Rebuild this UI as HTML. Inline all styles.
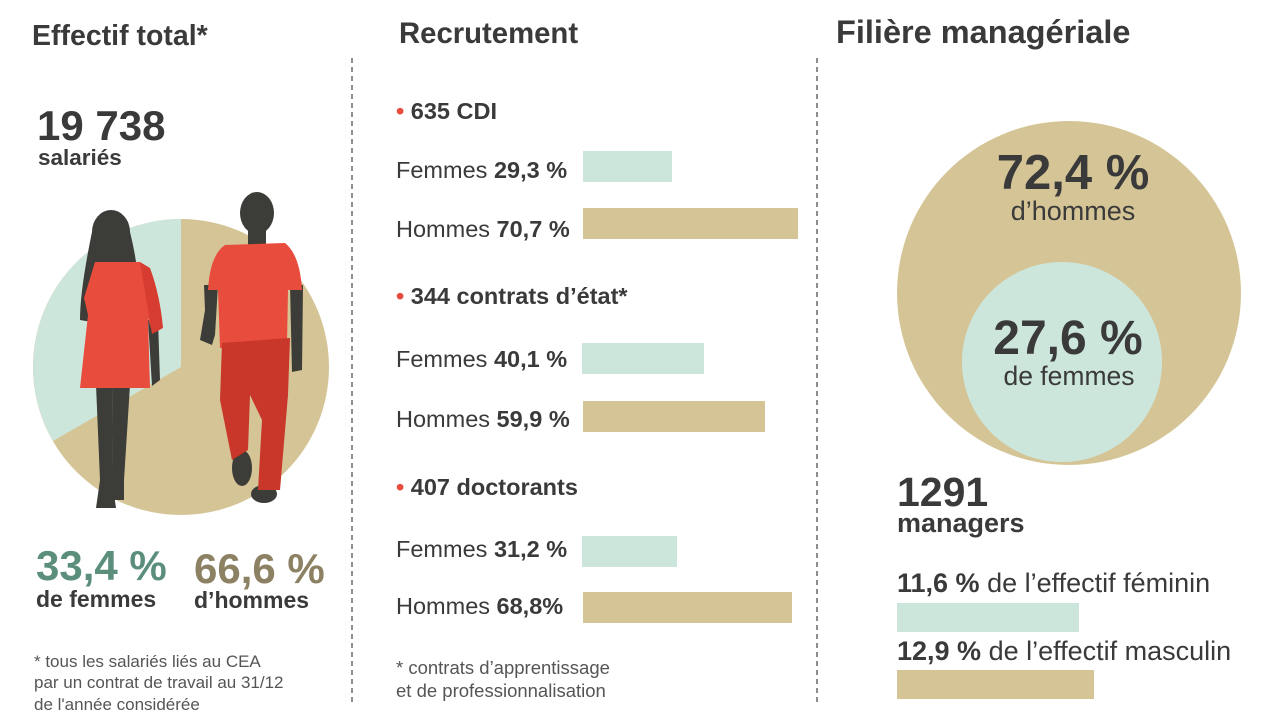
<!DOCTYPE html>
<html><head><meta charset="utf-8"><style>
body{margin:0;background:#fff;width:1280px;height:720px;overflow:hidden;font-family:"Liberation Sans",Arial,sans-serif}
</style></head><body>
<svg width="1280" height="720" xmlns="http://www.w3.org/2000/svg" font-family="Liberation Sans, Arial, sans-serif">
<rect width="1280" height="720" fill="#fff"/>
<line x1="352" y1="58" x2="352" y2="705" stroke="#444" stroke-width="1.2" stroke-dasharray="5,4"/>
<line x1="817" y1="58" x2="817" y2="705" stroke="#444" stroke-width="1.2" stroke-dasharray="5,4"/>
<g fill="#3a3a3a" font-weight="bold">
<text x="32" y="45" font-size="28.5">Effectif total*</text>
<text x="399" y="43" font-size="29.3">Recrutement</text>
<text x="836" y="43" font-size="32.5">Filière managériale</text>
</g>
<text x="37" y="140" font-size="42" font-weight="bold" fill="#3a3a3a">19 738</text>
<text x="38" y="165" font-size="22.5" font-weight="bold" fill="#3a3a3a">salariés</text>
<!-- pie -->
<circle cx="181" cy="367" r="148" fill="#d5c596"/>
<path d="M181,367 L181,219 A148,148 0 0,0 53,441 Z" fill="#cde6dc"/>
<!-- woman -->
<g fill="#3c3c38">
<ellipse cx="111" cy="232" rx="19" ry="22"/>
<path d="M92,232 Q80,290 80,320 L92,322 L100,262 L128,262 L140,330 Q142,280 130,232 Z"/>
<path d="M96,385 L113,385 L112,480 L116,508 L96,508 L100,480 Z"/>
<path d="M113,385 L130,385 L124,480 L124,500 L110,500 L112,470 Z"/>
<path d="M148,320 L158,320 L160,380 L152,386 Z"/>
</g>
<path d="M95,262 L140,262 Q158,290 162,325 L152,332 L148,318 L150,388 L80,388 L88,315 L84,298 Z" fill="#e84c3d"/>
<path d="M140,262 L150,268 Q160,295 163,328 L152,334 Z" fill="#d63d30"/>
<!-- man -->
<g fill="#3c3c38">
<ellipse cx="257" cy="213" rx="17" ry="21"/>
<rect x="248" y="225" width="18" height="22"/>
<path d="M204,285 L218,285 L215,335 L212,345 L200,340 L205,310 Z"/>
<path d="M290,285 L303,285 L302,370 L292,372 Z"/>
<ellipse cx="242" cy="468" rx="10" ry="18"/>
<ellipse cx="264" cy="494" rx="13" ry="9"/>
</g>
<path d="M225,245 L285,243 Q300,255 302,290 L288,290 L287,345 L220,348 L218,290 L208,290 Q210,255 225,245 Z" fill="#e84c3d"/>
<path d="M222,343 L290,338 L288,395 L280,490 L258,490 L262,420 L250,395 L248,450 L232,460 L220,400 Z" fill="#c9362a"/>
<text x="36" y="580" font-size="42" font-weight="bold" fill="#5b8f7c">33,4 %</text>
<text x="36" y="607" font-size="23" font-weight="bold" fill="#3a3a3a">de femmes</text>
<text x="194" y="583" font-size="42" font-weight="bold" fill="#8c8163">66,6 %</text>
<text x="194" y="608" font-size="23" font-weight="bold" fill="#3a3a3a">d’hommes</text>
<g font-size="17" fill="#555">
<text x="34" y="667">* tous les salariés liés au CEA</text>
<text x="34" y="688">par un contrat de travail au 31/12</text>
<text x="34" y="710">de l'année considérée</text>
</g>
<!-- recrutement -->
<g font-size="23.5" fill="#3a3a3a">
<text x="396" y="119" font-weight="bold"><tspan fill="#e84c3d">•</tspan> 635 CDI</text>
<text x="396" y="178">Femmes <tspan font-weight="bold">29,3 %</tspan></text>
<text x="396" y="237">Hommes <tspan font-weight="bold">70,7 %</tspan></text>
<text x="396" y="304" font-weight="bold"><tspan fill="#e84c3d">•</tspan> 344 contrats d’état*</text>
<text x="396" y="367">Femmes <tspan font-weight="bold">40,1 %</tspan></text>
<text x="396" y="427">Hommes <tspan font-weight="bold">59,9 %</tspan></text>
<text x="396" y="495" font-weight="bold"><tspan fill="#e84c3d">•</tspan> 407 doctorants</text>
<text x="396" y="557">Femmes <tspan font-weight="bold">31,2 %</tspan></text>
<text x="396" y="614">Hommes <tspan font-weight="bold">68,8%</tspan></text>
</g>
<g fill="#cde6dc">
<rect x="583" y="151" width="89" height="31"/>
<rect x="582" y="343" width="122" height="31"/>
<rect x="582" y="536" width="95" height="31"/>
</g>
<g fill="#d5c596">
<rect x="583" y="208" width="215" height="31"/>
<rect x="583" y="401" width="182" height="31"/>
<rect x="583" y="592" width="209" height="31"/>
</g>
<g font-size="18.5" fill="#555">
<text x="396" y="674">* contrats d’apprentissage</text>
<text x="396" y="697">et de professionnalisation</text>
</g>
<!-- manager -->
<circle cx="1069" cy="293" r="172" fill="#d5c596"/>
<circle cx="1062" cy="362" r="100" fill="#cde6dc"/>
<text x="1073" y="189" font-size="49" font-weight="bold" fill="#3a3a3a" text-anchor="middle">72,4 %</text>
<text x="1073" y="220" font-size="27" fill="#3a3a3a" text-anchor="middle">d’hommes</text>
<text x="1068" y="354" font-size="48" font-weight="bold" fill="#3a3a3a" text-anchor="middle">27,6 %</text>
<text x="1069" y="385" font-size="26.5" fill="#3a3a3a" text-anchor="middle">de femmes</text>
<text x="897" y="506" font-size="41" font-weight="bold" fill="#3a3a3a">1291</text>
<text x="897" y="532" font-size="27" font-weight="bold" fill="#3a3a3a">managers</text>
<text x="897" y="592" font-size="27" fill="#3a3a3a"><tspan font-weight="bold">11,6 %</tspan> de l’effectif féminin</text>
<rect x="897" y="603" width="182" height="29" fill="#cde6dc"/>
<text x="897" y="660" font-size="27" fill="#3a3a3a"><tspan font-weight="bold">12,9 %</tspan> de l’effectif masculin</text>
<rect x="897" y="670" width="197" height="29" fill="#d5c596"/>
</svg>
</body></html>
